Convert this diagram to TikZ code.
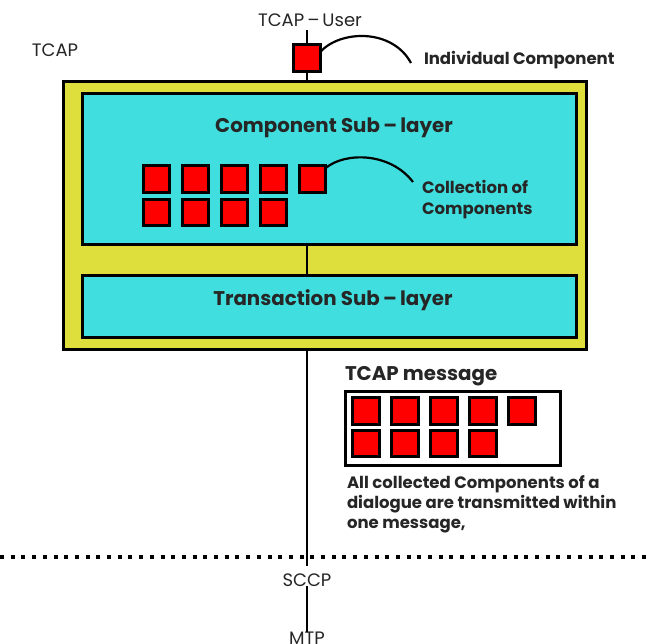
\documentclass[tikz,border=0pt]{standalone}
\usepackage{fontspec}
\setmainfont{Poppins}
\definecolor{layeryellow}{HTML}{DEDE3C}
\definecolor{layercyan}{HTML}{40DEDE}
\begin{document}
\begin{tikzpicture}[x=1pt,y=-1pt,
  every node/.style={inner sep=0pt,outer sep=0pt},
  wire/.style={line width=2.4pt,black},
  layerbox/.style={draw=black,line width=3pt,rectangle},
  comp/.style={draw=black,fill=red,line width=2.6pt,minimum size=26.5pt},
  lbl/.style={font=\fontsize{18}{20}\selectfont,text=black!85},
  blbl/.style={font=\fontsize{16.5}{21}\selectfont\bfseries,text=black!85,align=left},
  title/.style={font=\fontsize{19.8}{22}\selectfont\bfseries,text=black!85},
  arcline/.style={line width=2.2pt,black}]
\useasboundingbox[fill=white] (0,0) rectangle (649,644);

% protocol stack axis, drawn first so the layer boxes cover it
\node[lbl] (user) at (310,20) {TCAP\,--\,User};
\coordinate (stembot) at (307,566);
\draw[wire] (user.south -| stembot) ++(0,4) -- (stembot);

% layer boxes
\node[layerbox,fill=layeryellow,minimum width=523pt,minimum height=268pt] (tcapbox) at (324.5,216) {};
\node[layerbox,fill=layercyan,minimum width=494pt,minimum height=151pt] (compbox) at (329,169.5) {};
\node[layerbox,fill=layercyan,minimum width=494pt,minimum height=62pt] (transbox) at (329,307) {};
\draw[wire] (compbox.south -| stembot) -- (transbox.north -| stembot);

\node[title] (comptitle) at (334,128) {Component Sub\,--\,layer};
\node[title] (transtitle) at (333,300) {Transaction Sub\,--\,layer};
\node[lbl] (tcap) at (55,50) {TCAP};

% individual component on the user interface
\node[comp] (ic) at (307,58) {};
\node[blbl,anchor=west] (iclbl) at (424,60) {Individual Component};
\draw[arcline] (ic.east |- 0,52) .. controls (340,30) and (392,28) .. (411,63);

% collection of components inside the component sub-layer
\foreach \i in {0,...,4}
  \node[comp] (c1\i) at (156.5+39*\i,179) {};
\foreach \i in {0,...,3}
  \node[comp] (c2\i) at (156.5+39*\i,212.5) {};
\node[blbl,anchor=west] (collbl) at (422,200) {Collection of\\Components};
\draw[arcline] (c14.east |- 0,168) .. controls (345,152) and (390,152) .. (413,182);

% the TCAP message carrying all components
\node[title,anchor=west] (msgtitle) at (345,376) {TCAP message};
\node[layerbox,fill=white,minimum width=215pt,minimum height=74pt] (msgbox) at (452.5,429) {};
\foreach \i in {0,...,4}
  \node[comp] (m1\i) at (366+39*\i,411) {};
\foreach \i in {0,...,3}
  \node[comp] (m2\i) at (366+39*\i,443.5) {};
\node[blbl,anchor=north west,font=\fontsize{16.5}{20}\selectfont\bfseries] (msgnote) at (347,476)
  {All collected Components of a\\dialogue are transmitted within\\one message,};

% boundary towards the lower layers
\coordinate (bl) at (0,557);
\coordinate (br) at (649,557);
\draw[line width=3.5pt,dash pattern=on 4pt off 6.7pt] (bl) -- (br);

\node[lbl] (sccp) at (307,580) {SCCP};
\node[lbl] (mtp) at (307,638) {MTP};
\draw[wire] (sccp.south) -- (mtp.north);
\end{tikzpicture}
\end{document}
